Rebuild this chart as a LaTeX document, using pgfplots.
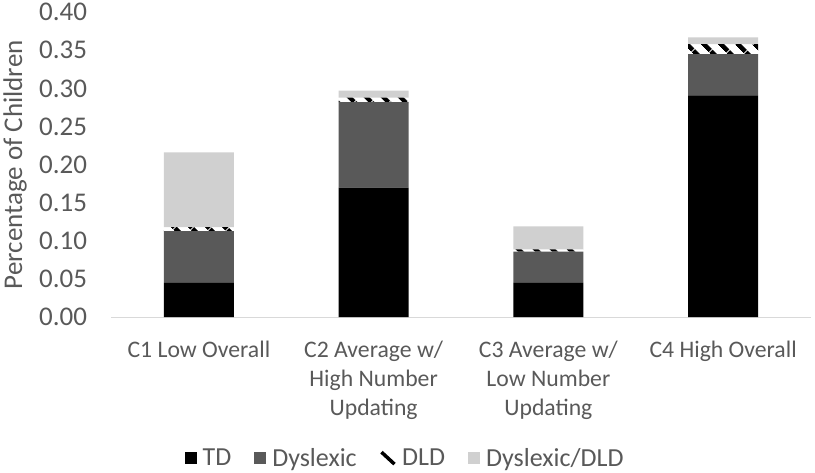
\documentclass[border=0pt]{standalone}
\usepackage{fontspec}
\setmainfont{Carlito}
\usepackage{pgfplots}
\pgfplotsset{compat=1.18}
\usetikzlibrary{patterns.meta}
\definecolor{txt}{HTML}{595959}
\definecolor{dys}{HTML}{595959}
\definecolor{mix}{HTML}{D0D0D0}
\definecolor{axln}{HTML}{D9D9D9}
\begin{document}
\begin{tikzpicture}
\begin{axis}[
    scale only axis,
    width=699pt, height=305pt,
    ybar stacked,
    bar width=0.4,
    xmin=-0.5, xmax=3.5,
    ymin=0, ymax=0.40,
    xtick=data,
    xticklabels={C1 Low Overall,C2 Average w/\\High Number\\Updating,C3 Average w/\\Low Number\\Updating,C4 High Overall},
    x tick label style={align=center, font=\fontsize{23.7}{29}\selectfont, text=txt, anchor=north, yshift=-20pt},
    ytick={0,0.05,...,0.40},
    y tick label style={font=\fontsize{27}{30}\selectfont, text=txt, xshift=-21pt,
        /pgf/number format/.cd, fixed, fixed zerofill, precision=2, assume math mode=true},
    ylabel={Percentage of Children},
    ylabel style={font=\fontsize{27}{30}\selectfont, text=txt,
        at={(axis description cs:-0.138,0.5)}, anchor=center},
    axis x line=bottom,
    axis y line=left,
    y axis line style={draw=none},
    x axis line style={draw=axln, line width=1pt, -},
    major tick length=0pt,
    legend style={at={(axis description cs:0.42,-0.462)}, anchor=center, draw=none,
        font=\fontsize{26}{29}\selectfont, text=txt, legend columns=-1,
        /tikz/every odd column/.append style={column sep=4pt},
        /tikz/every even column/.append style={column sep=21pt}},
    legend image code/.code={\fill[#1] (0pt,-6pt) rectangle (12pt,6pt);},
]
\addplot[fill=black, draw=none] coordinates {(0,0.045) (1,0.170) (2,0.045) (3,0.291)};
\addplot[fill=dys, draw=none] coordinates {(0,0.068) (1,0.112) (2,0.041) (3,0.054)};
\addplot[draw=none, pattern={Lines[angle=-45, distance=13pt, line width=5pt]}, pattern color=black,
    legend image code/.code={\draw[black, line width=3.5pt] (1pt,6pt) -- (14pt,-6pt);}]
    coordinates {(0,0.005) (1,0.006) (2,0.003) (3,0.013)};
\addplot[fill=mix, draw=none] coordinates {(0,0.098) (1,0.009) (2,0.030) (3,0.009)};
\legend{TD,Dyslexic,DLD,Dyslexic/DLD}
\end{axis}
\useasboundingbox (-111.5pt,-155pt) rectangle (703.5pt,317pt);
\end{tikzpicture}
\end{document}
